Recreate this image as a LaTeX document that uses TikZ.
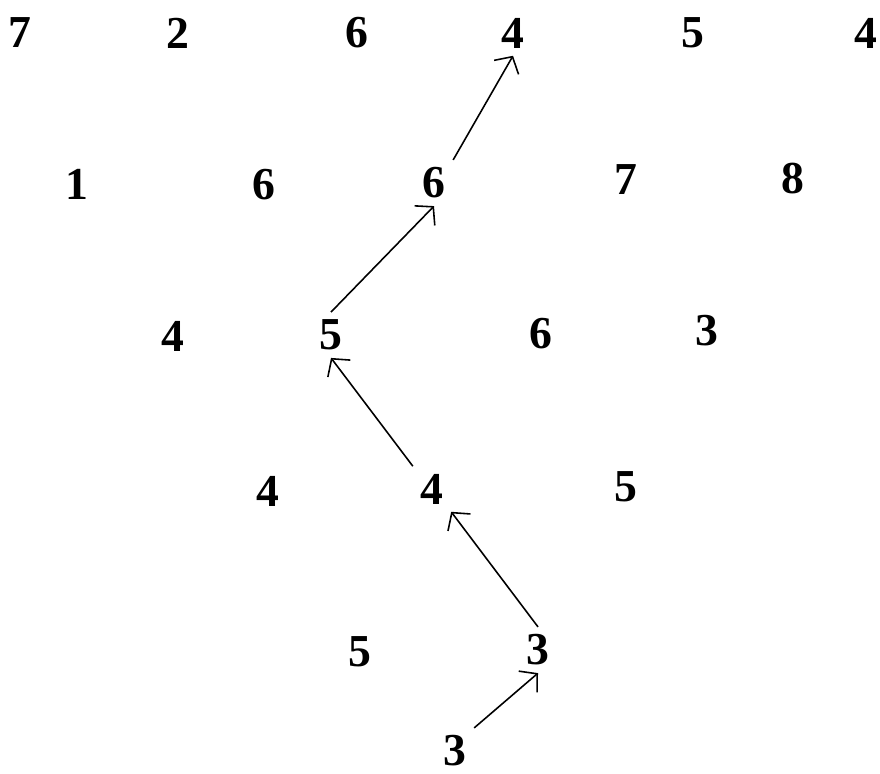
\documentclass[tikz,border=0pt]{standalone}
\usepackage{fontspec}
\setmainfont{Liberation Serif}
\usetikzlibrary{arrows.meta}
\newcommand{\numfont}{\fontsize{13}{15}\selectfont\bfseries}

\begin{document}
\begin{tikzpicture}[
   x=0.01cm, y=-0.01cm,
   num/.style={font=\numfont, inner sep=2pt},
   arr/.style={-{Straight Barb[length=3.5pt, width=8pt]}, line width=0.45pt}]

  \useasboundingbox (0,0) rectangle (880,774);

  % top row
  \node[num] (n11) at (20,33)  {7};
  \node[num] (n12) at (178,33) {2};
  \node[num] (n13) at (357,33) {6};
  \node[num] (n14) at (513,33) {4};
  \node[num] (n15) at (693,33) {5};
  \node[num] (n16) at (866,33) {4};

  \node[num] (n21) at (77,184)  {1};
  \node[num] (n22) at (264,185) {6};
  \node[num] (n23) at (434,183) {6};
  \node[num] (n24) at (626,180) {7};
  \node[num] (n25) at (793,179) {8};

  \node[num] (n31) at (173,336) {4};
  \node[num] (n32) at (331,335) {5};
  \node[num] (n33) at (541,334) {6};
  \node[num] (n34) at (707,331) {3};

  \node[num] (n41) at (268,491) {4};
  \node[num] (n42) at (432,489) {4};
  \node[num] (n43) at (626,487) {5};

  \node[num] (n51) at (360,652) {5};
  \node[num] (n52) at (538,650) {3};

  \node[num] (n61) at (455,751) {3};

  % the path up
  \draw[arr] (n61.north east) -- (n52.south);
  \draw[arr] (n52.north) -- (n42.south east);
  \draw[arr] (n42.north west) -- (n32.south);
  \draw[arr] (n32.north) -- (n23.south);
  \draw[arr] (n23.north east) -- (n14.south);
\end{tikzpicture}
\end{document}
